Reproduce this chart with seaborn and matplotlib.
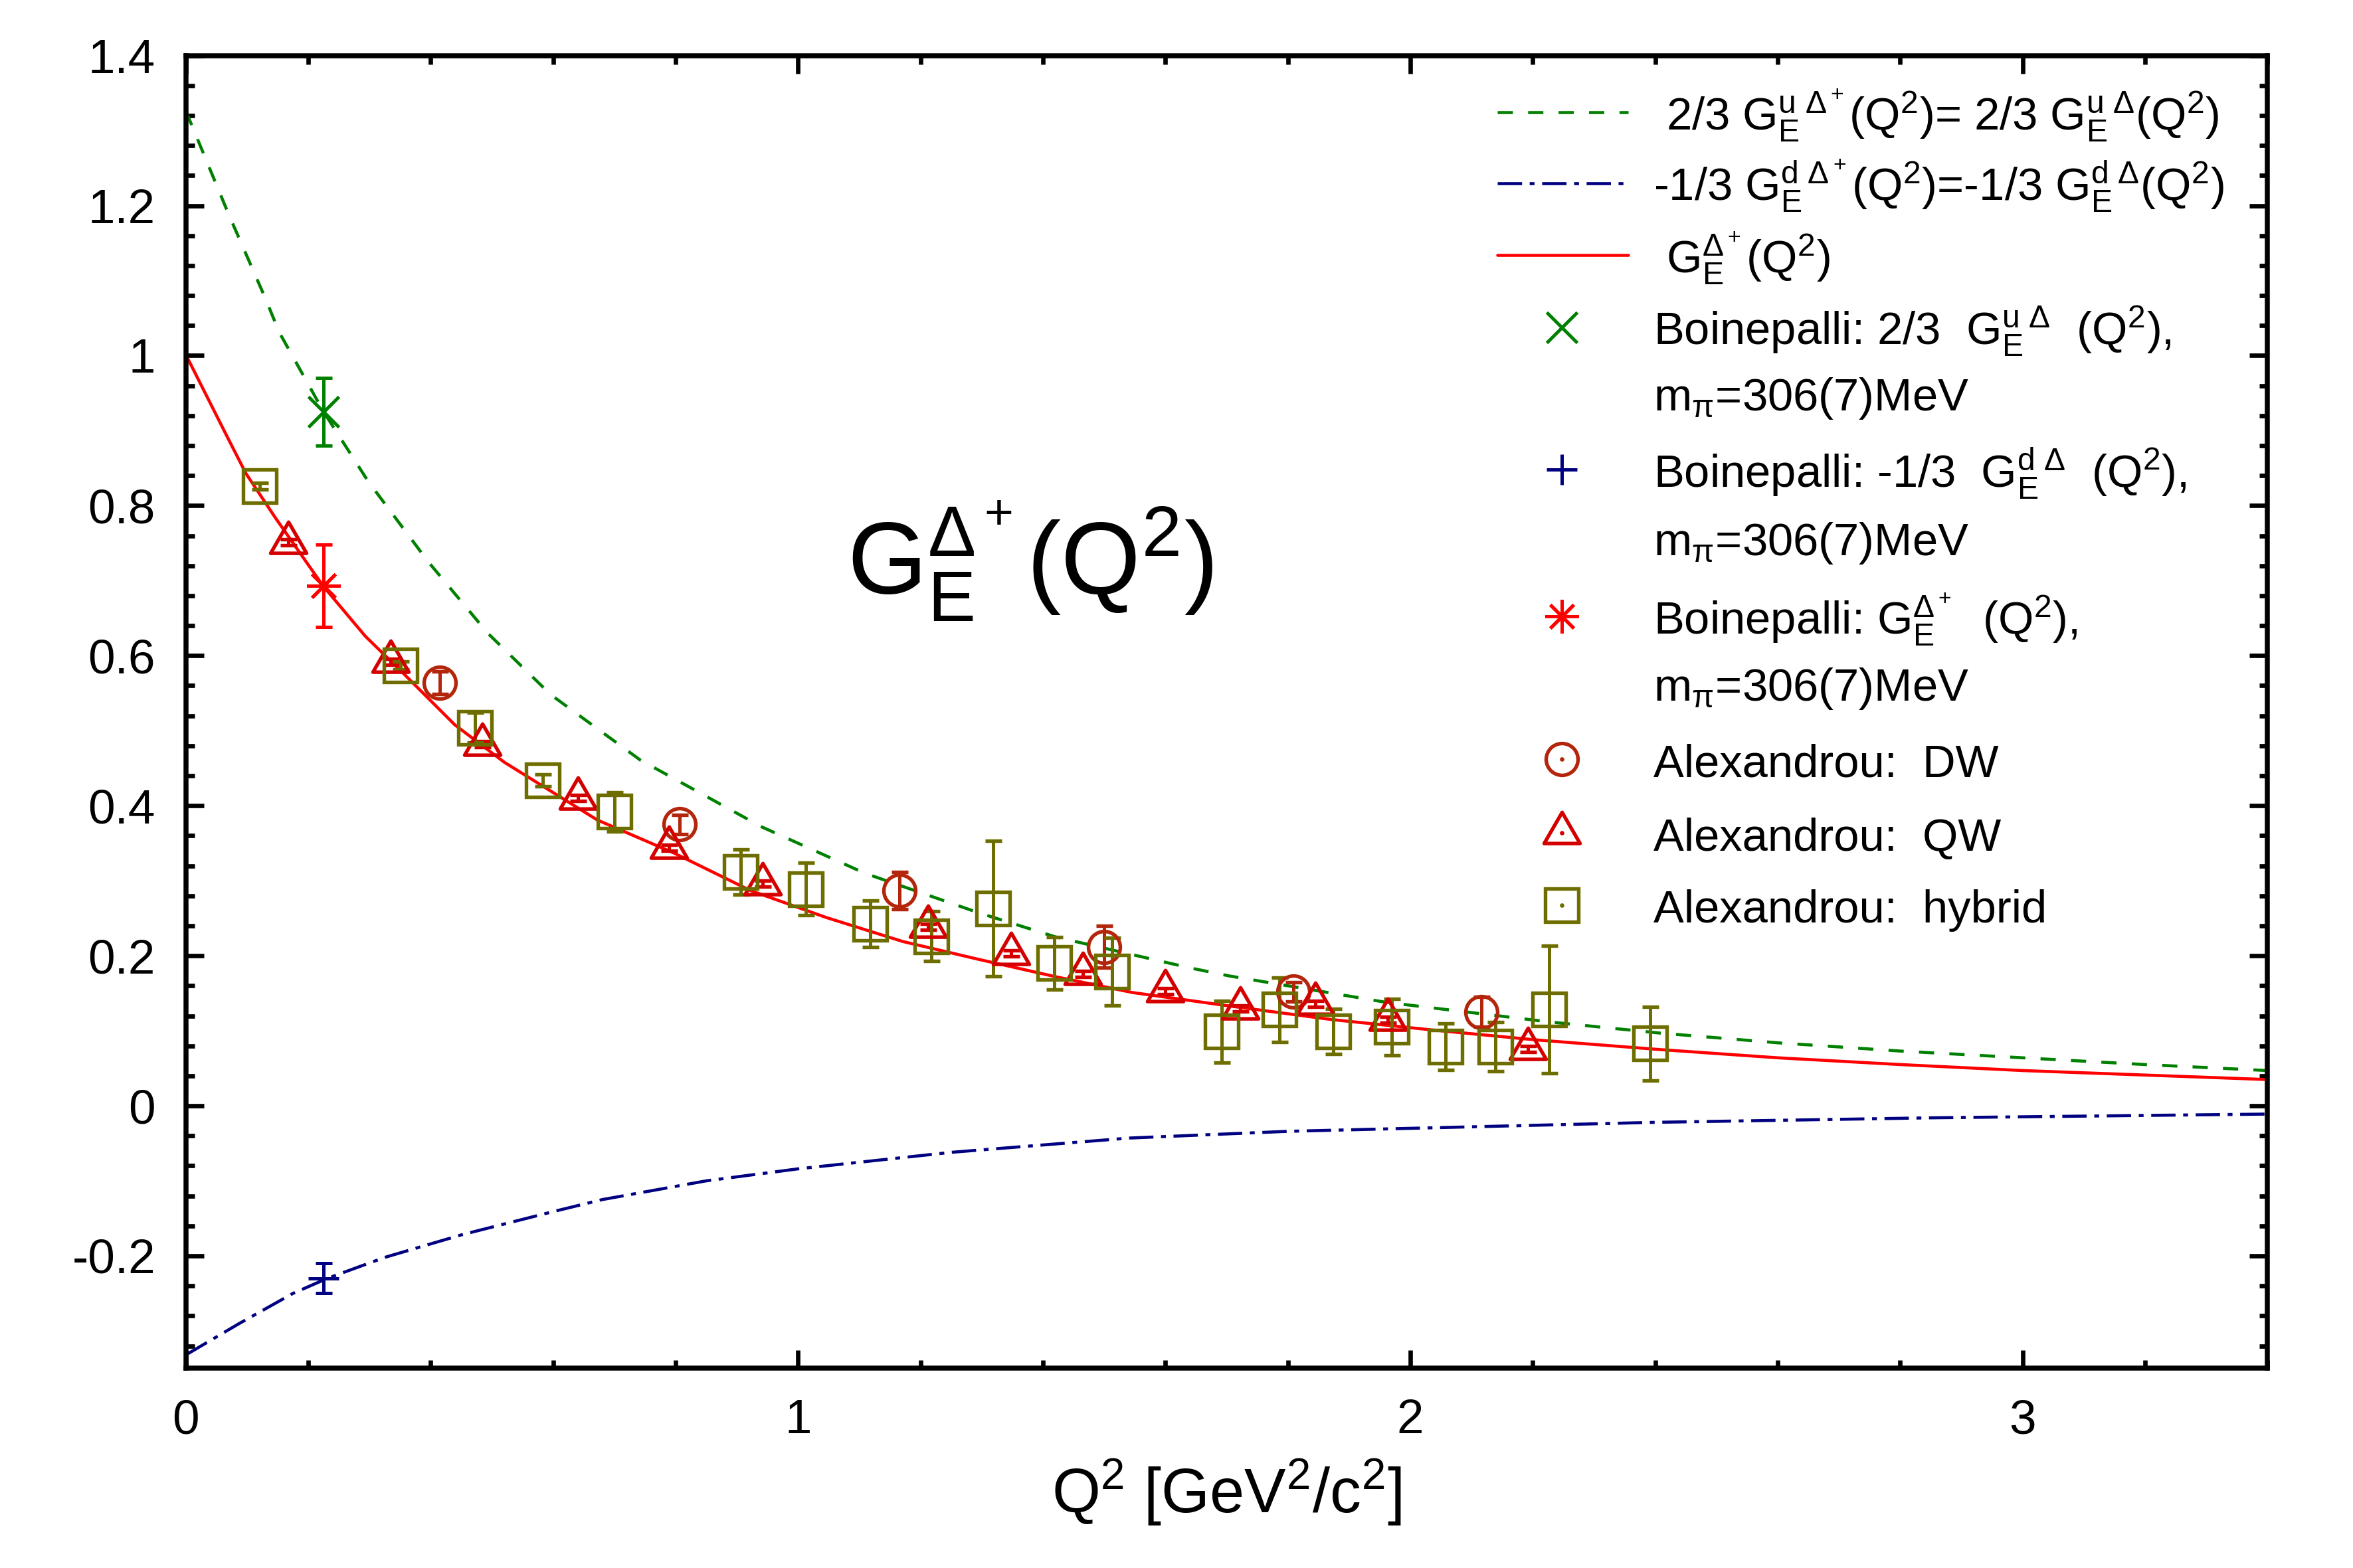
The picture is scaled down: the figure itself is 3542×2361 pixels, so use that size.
import seaborn as sns
import matplotlib.pyplot as plt
import matplotlib as mpl
import pandas as pd
from matplotlib.lines import Line2D
from matplotlib.path import Path
from matplotlib.ticker import MultipleLocator, FuncFormatter

# --- curves ---
u_curve_x = [0.0, 0.07, 0.13, 0.1525, 0.225, 0.298, 0.396, 0.493, 0.596, 0.742, 0.94,
             1.109, 1.296, 1.421, 1.639, 1.705, 1.96, 2.225, 2.407, 2.6, 2.8, 3.0, 3.2, 3.4]
u_curve_y = [1.326, 1.188, 1.076, 1.031, 0.925, 0.832, 0.725, 0.630, 0.548, 0.461, 0.372,
             0.310, 0.257, 0.225, 0.184, 0.173, 0.138, 0.112, 0.097, 0.084, 0.073, 0.064,
             0.055, 0.047]

d_curve_x = [0.0, 0.0875, 0.175, 0.231, 0.325, 0.45, 0.6, 0.68, 0.85, 1.0, 1.25, 1.54,
             1.8, 2.0, 2.4, 2.85, 3.4]
d_curve_y = [-0.332, -0.290, -0.250, -0.230, -0.202, -0.172, -0.141, -0.125, -0.100, -0.084,
             -0.062, -0.043, -0.034, -0.030, -0.022, -0.016, -0.011]

tot_curve_x = [0.0, 0.005, 0.068, 0.098, 0.146, 0.20, 0.225, 0.293, 0.352, 0.439, 0.52, 0.672,
               0.797, 0.922, 1.046, 1.171, 1.296, 1.421, 1.546, 1.705, 1.871, 2.037, 2.203,
               2.407, 2.6, 2.8, 3.0, 3.2, 3.4]
tot_curve_y = [1.0, 0.993, 0.891, 0.843, 0.784, 0.721, 0.692, 0.626, 0.579, 0.508, 0.458, 0.381,
               0.337, 0.287, 0.251, 0.219, 0.195, 0.172, 0.151, 0.133, 0.115, 0.101, 0.088,
               0.075, 0.064, 0.055, 0.047, 0.041, 0.035]

# --- Boinepalli points (m_pi = 306 MeV) ---
boin_q2 = [0.225]
boin_u = [0.925]
boin_u_err = [0.045]
boin_d = [-0.230]
boin_d_err = [0.020]
boin_tot = [0.693]
boin_tot_err = [0.055]

# --- Alexandrou points ---
dw_q2 = [0.415, 0.806, 1.165, 1.500, 1.809, 2.116]
dw_val = [0.564, 0.375, 0.287, 0.212, 0.152, 0.125]
dw_err = [0.015, 0.013, 0.025, 0.028, 0.013, 0.020]

qw_q2 = [0.167, 0.334, 0.484, 0.640, 0.789, 0.942, 1.212, 1.348, 1.465, 1.600, 1.722,
         1.845, 1.963, 2.192]
qw_val = [0.751, 0.592, 0.482, 0.410, 0.344, 0.296, 0.239, 0.203, 0.176, 0.153, 0.130,
          0.136, 0.115, 0.076]
qw_err = [0.004] * 14

hyb_q2 = [0.121, 0.351, 0.472, 0.583, 0.700, 0.906, 1.012, 1.118, 1.218, 1.318, 1.418,
          1.513, 1.692, 1.786, 1.874, 1.969, 2.057, 2.139, 2.227, 2.392]
hyb_val = [0.826, 0.587, 0.504, 0.434, 0.392, 0.312, 0.289, 0.243, 0.226, 0.263, 0.190,
           0.179, 0.099, 0.128, 0.099, 0.105, 0.079, 0.079, 0.128, 0.083]
hyb_err = [0.004, 0.005, 0.020, 0.008, 0.026, 0.030, 0.035, 0.031, 0.033, 0.090, 0.035,
           0.045, 0.041, 0.043, 0.030, 0.038, 0.031, 0.033, 0.085, 0.049]

GREEN = '#008000'
NAVY = '#000080'
RED = '#ff0000'
C_DW = '#b3260c'
C_QW = '#d40000'
C_HYB = '#6e6e00'

sns.set_style('ticks')
plt.rcParams['font.family'] = ['Liberation Sans', 'DejaVu Sans']
plt.rcParams['mathtext.fontset'] = 'custom'
plt.rcParams['mathtext.rm'] = 'Liberation Sans'
plt.rcParams['mathtext.it'] = 'Liberation Sans'
plt.rcParams['mathtext.sf'] = 'Liberation Sans'
plt.rcParams['mathtext.default'] = 'rm'
plt.rcParams['axes.unicode_minus'] = False
plt.rcParams['text.color'] = 'black'
plt.rcParams['axes.labelcolor'] = 'black'
plt.rcParams['xtick.color'] = 'black'
plt.rcParams['ytick.color'] = 'black'

tri = Path([(0, 1), (-0.866, -0.5), (0.866, -0.5), (0, 1)],
           [Path.MOVETO, Path.LINETO, Path.LINETO, Path.CLOSEPOLY])
ASTER = (8, 2, 0)

fig = plt.figure(figsize=(3542 / 300, 2361 / 300), dpi=300)
ax = fig.add_axes([0.079, 0.1273, 0.8847, 0.8373])

u_df = pd.DataFrame({'Q2': u_curve_x, 'G': u_curve_y})
d_df = pd.DataFrame({'Q2': d_curve_x, 'G': d_curve_y})
t_df = pd.DataFrame({'Q2': tot_curve_x, 'G': tot_curve_y})

sns.lineplot(data=u_df, x='Q2', y='G', ax=ax, color=GREEN, lw=1.1, sort=False, estimator=None)
ax.lines[-1].set_dashes((5, 5))
sns.lineplot(data=d_df, x='Q2', y='G', ax=ax, color=NAVY, lw=1.1, sort=False, estimator=None)
ax.lines[-1].set_dashes((8, 2.5, 1.6, 2.5))
sns.lineplot(data=t_df, x='Q2', y='G', ax=ax, color=RED, lw=1.1, sort=False, estimator=None)

eb = dict(capsize=3, elinewidth=1.2, capthick=1.2, linestyle='none')
ax.errorbar(dw_q2, dw_val, yerr=dw_err, marker='o', ms=11.5, mfc='none', mec=C_DW, mew=1.3,
            color=C_DW, **eb)
ax.errorbar(qw_q2, qw_val, yerr=qw_err, marker=tri, ms=15, mfc='none', mec=C_QW, mew=1.3,
            color=C_QW, **eb)
ax.errorbar(hyb_q2, hyb_val, yerr=hyb_err, marker='s', ms=12, mfc='none', mec=C_HYB, mew=1.3,
            color=C_HYB, **eb)
ax.errorbar(boin_q2, boin_u, yerr=boin_u_err, marker='x', ms=11, mew=1.2, color=GREEN, **eb)
ax.errorbar(boin_q2, boin_d, yerr=boin_d_err, marker='+', ms=11, mew=1.2, color=NAVY, **eb)
ax.errorbar(boin_q2, boin_tot, yerr=boin_tot_err, marker=ASTER, ms=12, mew=1.2, color=RED, **eb)

ax.set_xlim(0, 3.4)
ax.set_ylim(-0.35, 1.4)
ax.xaxis.set_major_locator(MultipleLocator(1))
ax.xaxis.set_minor_locator(MultipleLocator(0.2))
ax.yaxis.set_major_locator(MultipleLocator(0.2))
ax.yaxis.set_minor_locator(MultipleLocator(0.04))
fmt = FuncFormatter(lambda v, p: '%g' % round(v, 6))
ax.xaxis.set_major_formatter(fmt)
ax.yaxis.set_major_formatter(fmt)
ax.tick_params(which='both', direction='in', top=True, right=True, width=1.6,
               labelsize=17.5, pad=11, color='black')
ax.tick_params(which='major', length=6.5)
ax.tick_params(which='minor', length=3)
for s in ax.spines.values():
    s.set_linewidth(1.8)
    s.set_color('black')

ax.set_xlabel(r'Q$^2$ [GeV$^2$/c$^2$]', fontsize=22.5, labelpad=5)
ax.set_ylabel('')

ax.text(1.08, 0.682, r'G$_E^{\Delta^+}$(Q$^2$)', fontsize=37, ha='left', va='baseline')

# legend, laid out like the original (fixed row pitch)
leg_rows = [
    ('line', dict(color=GREEN, dashes=(5, 5)), 0.9566,
     r' 2/3 G$_E^{u\ \Delta^+}$(Q$^2$)= 2/3 G$_E^{u\ \Delta}$(Q$^2$)'),
    ('line', dict(color=NAVY, dashes=(8, 2.5, 1.6, 2.5)), 0.9029,
     r'-1/3 G$_E^{d\ \Delta^+}$(Q$^2$)=-1/3 G$_E^{d\ \Delta}$(Q$^2$)'),
    ('line', dict(color=RED), 0.848, r' G$_E^{\Delta^+}$(Q$^2$)'),
    ('mark', dict(marker='x', color=GREEN, mew=1.2, ms=11), 0.793,
     r'Boinepalli: 2/3  G$_E^{u\ \Delta}$  (Q$^2$),'),
    ('none', None, 0.743, r'm$_\pi$=306(7)MeV'),
    ('mark', dict(marker='+', color=NAVY, mew=1.2, ms=11), 0.6846,
     r'Boinepalli: -1/3  G$_E^{d\ \Delta}$  (Q$^2$),'),
    ('none', None, 0.633, r'm$_\pi$=306(7)MeV'),
    ('mark', dict(marker=ASTER, color=RED, mew=1.2, ms=12), 0.5726,
     r'Boinepalli: G$_E^{\Delta^+}$  (Q$^2$),'),
    ('none', None, 0.522, r'm$_\pi$=306(7)MeV'),
    ('dot', dict(marker='o', color=C_DW, mfc='none', mew=1.3, ms=11.5), 0.464, 'Alexandrou:  DW'),
    ('dot', dict(marker=tri, color=C_QW, mfc='none', mew=1.3, ms=15), 0.408, 'Alexandrou:  QW'),
    ('dot', dict(marker='s', color=C_HYB, mfc='none', mew=1.3, ms=12), 0.353, 'Alexandrou:  hybrid'),
]
for kind, props, yy, label in leg_rows:
    if kind == 'line':
        ln = Line2D([0.6301, 0.6929], [yy, yy], lw=1.1, transform=ax.transAxes, clip_on=False,
                    color=props['color'])
        if 'dashes' in props:
            ln.set_dashes(props['dashes'])
        ax.add_line(ln)
    elif kind in ('mark', 'dot'):
        ax.add_line(Line2D([0.6611], [yy], linestyle='none', transform=ax.transAxes,
                           clip_on=False, **props))
        if kind == 'dot':
            # gnuplot draws a small dot at the symbol centre
            ax.add_line(Line2D([0.6611], [yy], linestyle='none', marker='o', ms=1.6,
                               mew=0, color=props['color'], transform=ax.transAxes,
                               clip_on=False))
    ax.text(0.7051, yy - 0.0135, label, transform=ax.transAxes, fontsize=16.5,
            ha='left', va='baseline')

fig.savefig('out.png', dpi=300, facecolor='white')
